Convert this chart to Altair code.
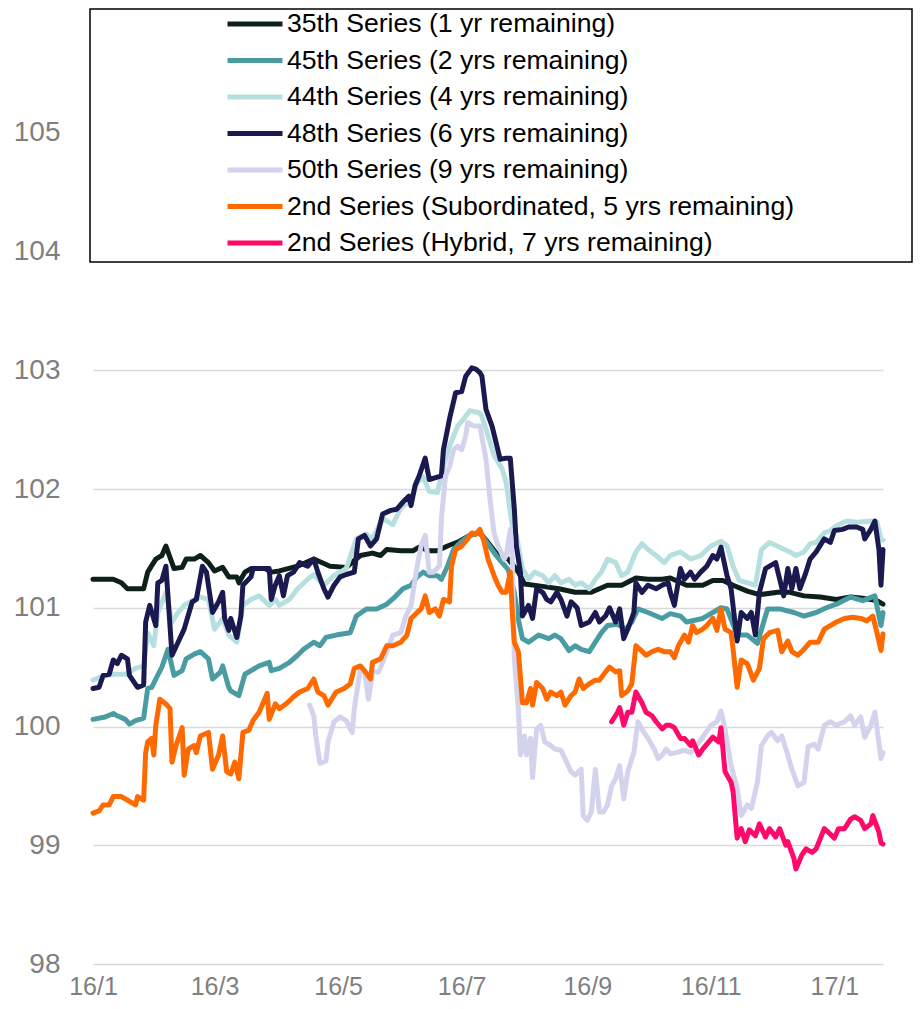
import altair as alt
import pandas as pd

# ---- series (legend order) ----
series_names = [
    "35th Series (1 yr remaining)",
    "45th Series (2 yrs remaining)",
    "44th Series (4 yrs remaining)",
    "48th Series (6 yrs remaining)",
    "50th Series (9 yrs remaining)",
    "2nd Series (Subordinated, 5 yrs remaining)",
    "2nd Series (Hybrid, 7 yrs remaining)",
]
series_colors = ["#0e201c", "#4a9ca3", "#b8dfe0", "#1b1a50", "#d3d3ee", "#ff6a00", "#ff0a6a"]

# days are counted from 2016-01-01
s35_days = [0, 10, 14, 17, 25, 27, 31, 34, 36, 40, 44, 46, 50, 53, 57, 60, 64, 67, 71, 72, 75, 78, 85, 88,
            92, 101, 109, 117, 125, 132, 138, 142, 145, 152, 158, 161, 166, 170, 175, 181, 186, 191,
            194, 199, 202, 205, 210, 213, 222, 230, 238, 246, 254, 261, 268, 274, 281,
            285, 293, 301, 306, 311, 316, 323, 329, 338, 344, 351, 359, 367, 374, 380, 387, 390]
s35_vals = [101.24, 101.24, 101.21, 101.16, 101.16, 101.30, 101.41, 101.44, 101.52, 101.33, 101.34, 101.41,
            101.41, 101.44, 101.38, 101.31, 101.34, 101.26, 101.26, 101.21, 101.30, 101.33, 101.33, 101.30,
            101.31, 101.35, 101.41, 101.35, 101.34, 101.44, 101.46, 101.44, 101.49, 101.48, 101.48, 101.51,
            101.48, 101.48, 101.52, 101.56, 101.61, 101.63,
            101.57, 101.46, 101.44, 101.41, 101.30, 101.20, 101.18, 101.16, 101.13, 101.13, 101.19, 101.19,
            101.25, 101.24, 101.24,
            101.25, 101.19, 101.19, 101.23, 101.23, 101.19, 101.14, 101.11, 101.13, 101.13, 101.10, 101.09,
            101.07, 101.09, 101.08, 101.06, 101.03]

s45_days = [0, 6, 10, 12, 16, 18, 21, 25, 27, 29, 31, 34, 37, 40, 44, 46, 50, 53, 57, 59, 63, 64, 67, 68, 72,
            75, 78, 82, 87, 88,
            92, 97, 101, 104, 109, 112, 115, 120, 127, 130, 135, 140, 145, 149, 153, 157, 160, 163, 166, 170,
            172, 175, 178, 182, 186, 191,
            194, 199, 202, 205, 208, 210, 212, 215, 220, 225, 228, 231, 235, 238, 241, 245, 248, 251, 254, 259,
            263, 266, 269, 274, 281,
            285, 290, 293, 301, 310, 313, 318, 323, 328, 333, 339, 346, 351, 357, 362, 367, 374, 380, 386, 389, 390]
s45_vals = [100.06, 100.08, 100.11, 100.09, 100.06, 100.02, 100.05, 100.07, 100.32, 100.33, 100.40, 100.50,
            100.65, 100.43, 100.47, 100.57, 100.61, 100.63, 100.57, 100.40, 100.46, 100.51, 100.33, 100.30,
            100.26, 100.44, 100.47, 100.51, 100.54, 100.47,
            100.49, 100.54, 100.60, 100.65, 100.71, 100.68, 100.75, 100.77, 100.79, 100.93, 100.99, 100.99,
            101.03, 101.09, 101.16, 101.19, 101.26, 101.30, 101.27, 101.27, 101.24, 101.35, 101.49, 101.56,
            101.61, 101.63,
            101.56, 101.44, 101.38, 101.32, 101.13, 100.90, 100.74, 100.71, 100.77, 100.74, 100.77, 100.74,
            100.64, 100.68, 100.65, 100.63, 100.71, 100.79, 100.85, 100.86, 100.82, 100.88, 100.99, 100.96,
            100.91,
            100.95, 100.93, 100.88, 100.91, 101.00, 100.99, 100.77, 100.77, 100.70, 100.99, 100.99, 100.96,
            100.93, 100.96, 101.00, 101.03, 101.09, 101.06, 101.10, 100.85, 100.96]

s44_days = [0, 6, 11, 16, 21, 25, 27, 30, 32, 36, 39, 42, 45, 49, 53, 57, 60, 64, 67, 71, 74, 78, 82, 87, 90,
            92, 97, 101, 106, 109, 114, 119, 125, 130, 135, 138, 143, 148, 152, 157, 160, 163, 166, 170, 173,
            176, 180, 183, 186, 191,
            192, 195, 198, 202, 204, 207, 209, 212, 215, 218, 222, 225, 228, 231, 235, 238, 241, 245, 248, 251,
            254, 258, 261, 264, 268, 271, 274, 278, 282,
            285, 290, 295, 300, 305, 310, 313, 316, 319, 323, 327, 330, 334, 339, 344, 347, 351, 354, 357, 361,
            364, 367, 372, 377, 384, 387, 389, 390]
s44_vals = [100.39, 100.43, 100.44, 100.44, 100.49, 100.51, 100.79, 100.68, 100.96, 101.13, 100.88, 100.96,
            101.02, 101.06, 101.09, 101.07, 100.82, 100.91, 100.77, 100.71, 101.02, 101.07, 101.10, 101.02,
            101.07,
            101.02, 101.07, 101.16, 101.24, 101.28, 101.19, 101.27, 101.33, 101.58, 101.62, 101.58, 101.75,
            101.70, 101.84, 101.91, 102.05, 102.10, 101.98, 101.97, 102.19, 102.36, 102.53, 102.59, 102.66,
            102.64,
            102.61, 102.45, 102.28, 102.17, 102.05, 101.69, 101.61, 101.33, 101.24, 101.30, 101.27, 101.21,
            101.27, 101.21, 101.24, 101.19, 101.21, 101.16, 101.24, 101.30, 101.41, 101.38, 101.27, 101.30,
            101.47, 101.54, 101.49, 101.44, 101.38,
            101.44, 101.47, 101.41, 101.44, 101.52, 101.56, 101.52, 101.35, 101.23, 101.21, 101.19, 101.49,
            101.55, 101.51, 101.47, 101.44, 101.47, 101.54, 101.55, 101.63, 101.65, 101.69, 101.73, 101.72,
            101.73, 101.72, 101.58, 101.57]

s48_days = [0, 3, 5, 8, 10, 12, 14, 17, 18, 22, 25, 26, 28, 31, 32, 34, 36, 39, 42, 45, 49, 51, 54, 56, 59,
            62, 64, 65, 67, 68, 71, 73, 74, 78, 79, 87, 88, 90,
            92, 94, 96, 99, 102, 106, 109, 111, 114, 116, 119, 122, 125, 129, 131, 134, 137, 140, 143, 147,
            150, 153, 156, 157, 159, 161, 164, 166, 170, 172, 173, 176, 179, 182, 184, 187, 189, 191,
            192, 194, 197, 199, 201, 204, 206, 208, 209, 211, 212, 215, 217, 219, 222, 224, 226, 229, 231, 234,
            236, 239, 241, 245, 248, 250, 253, 255, 258, 260, 262, 264, 267, 268, 271, 274, 278, 281, 284,
            285, 287, 290, 292, 295, 297, 300, 303, 306, 308, 310, 313, 315, 318, 320, 323, 325, 327, 329, 332,
            334, 337, 339, 341, 343, 345, 347, 349, 352, 354, 357, 361, 364, 366, 370, 373, 377, 380, 381, 384,
            386, 388, 389, 390]
s48_vals = [100.32, 100.33, 100.43, 100.44, 100.56, 100.53, 100.60, 100.57, 100.43, 100.33, 100.35, 100.88,
            101.02, 100.85, 101.21, 101.23, 101.35, 100.60, 100.71, 100.82, 101.05, 101.07, 101.35, 101.30,
            100.96, 101.05, 101.13, 100.91, 100.81, 100.91, 100.75, 100.93, 101.19, 101.26, 101.33, 101.33,
            101.07, 101.19,
            101.27, 101.10, 101.27, 101.30, 101.38, 101.35, 101.41, 101.30, 101.16, 101.09, 101.19, 101.26,
            101.28, 101.30, 101.58, 101.61, 101.52, 101.58, 101.79, 101.82, 101.83, 101.89, 101.94, 101.86,
            102.03, 102.11, 102.26, 102.08, 102.10, 102.11, 102.33, 102.59, 102.81, 102.82, 102.95, 103.02,
            103.01, 102.98,
            102.95, 102.67, 102.53, 102.39, 102.25, 102.26, 102.26, 101.83, 101.52, 101.30, 100.93, 101.02,
            100.91, 101.16, 101.13, 101.07, 101.05, 101.13, 101.07, 100.93, 101.05, 101.00, 100.85, 100.88,
            100.96, 100.88, 100.93, 101.00, 100.88, 100.99, 100.74, 100.82, 100.96, 101.21, 101.13, 101.19,
            101.16, 101.19, 101.21,
            101.13, 101.02, 101.33, 101.24, 101.30, 101.24, 101.30, 101.35, 101.44, 101.41, 101.51, 101.27,
            101.16, 100.72, 100.96, 100.91, 100.96, 100.77, 101.13, 101.33, 101.35, 101.38, 101.24, 101.10,
            101.33, 101.16, 101.33, 101.16, 101.30, 101.41, 101.47, 101.58, 101.55, 101.65, 101.66, 101.68,
            101.68, 101.66, 101.58, 101.66, 101.73, 101.49, 101.19, 101.49]

s50_days = [107, 109, 110, 112, 115, 116, 119, 122, 125, 128, 129, 132, 134, 136, 138, 141, 143, 145, 148, 152,
            154, 157, 158, 160, 162, 164, 166, 168, 171, 172, 174, 176, 178, 180, 182, 184, 185, 188, 191,
            194, 196, 198, 200, 203, 204, 206, 207, 208, 210, 211, 213, 214, 216, 217, 219, 221, 223, 226, 228,
            231, 233, 236, 238, 241, 242, 244, 246, 248, 250, 252, 254, 256, 258, 260, 262, 264, 267, 269, 272,
            274, 277, 279, 281, 283,
            285, 288, 292, 295, 298, 301, 305, 308, 310, 312, 315, 318, 320, 323, 325, 328, 330, 333, 335, 338,
            340, 343, 345, 348, 351, 353, 356, 358, 361, 364, 367, 371, 374, 376, 379, 381, 384, 386, 389, 390]
s50_vals = [100.18, 100.09, 99.92, 99.69, 99.71, 99.87, 100.04, 100.08, 100.05, 99.95, 100.15, 100.49, 100.47,
            100.23, 100.46, 100.46, 100.54, 100.63, 100.77, 100.79, 100.91, 101.02, 101.13, 101.35, 101.52,
            101.61, 101.30, 101.30, 101.35, 101.75, 102.11, 102.19, 102.33, 102.36, 102.33, 102.45, 102.56,
            102.53, 102.53,
            102.25, 101.91, 101.63, 101.52, 101.41, 101.44, 101.66, 101.41, 100.57, 100.15, 99.76, 99.92, 99.76,
            99.90, 99.57, 99.98, 100.01, 99.87, 99.84, 99.81, 99.80, 99.73, 99.62, 99.59, 99.64, 99.25, 99.21,
            99.28, 99.64, 99.28, 99.28, 99.34, 99.50, 99.56, 99.67, 99.39, 99.62, 99.78, 100.04, 99.95, 99.90,
            99.81, 99.73, 99.76, 99.81,
            99.77, 99.78, 99.80, 99.78, 99.84, 99.91, 100.01, 100.04, 100.13, 99.98, 99.67, 99.48, 99.25, 99.34,
            99.31, 99.53, 99.84, 99.92, 99.95, 99.88, 99.92, 99.76, 99.64, 99.50, 99.53, 99.83, 99.85, 99.81,
            100.01, 100.04, 100.01, 100.04, 100.09, 100.01, 100.08, 99.91, 100.01, 100.12, 99.73, 99.78]

sub_days = [0, 3, 5, 8, 10, 14, 17, 21, 22, 25, 26, 27, 29, 30, 31, 33, 36, 38, 39, 41, 44, 45, 47, 50, 51, 53,
            57, 59, 62, 64, 66, 68, 70, 72, 74, 77, 79, 82, 86, 87, 90,
            92, 96, 99, 102, 106, 109, 111, 114, 116, 120, 124, 127, 129, 132, 134, 137, 138, 142, 145, 148,
            152, 155, 157, 160, 162, 164, 166, 169, 171, 173, 176, 177, 179, 182, 185, 187, 189, 191,
            193, 195, 198, 200, 202, 204, 206, 207, 208, 210, 212, 214, 216, 217, 219, 222, 224, 226, 229, 231,
            233, 236, 238, 240, 242, 245, 248, 250, 253, 255, 258, 260, 261, 264, 266, 268, 270, 273, 276, 279,
            282,
            285, 287, 289, 292, 294, 296, 298, 301, 303, 306, 308, 310, 312, 315, 316, 318, 320, 323, 326, 329,
            331, 334, 338, 340, 343, 345, 348, 351, 354, 358, 361, 364, 367, 371, 375, 379, 382, 385, 387, 389,
            390]
sub_vals = [99.27, 99.29, 99.34, 99.34, 99.41, 99.41, 99.38, 99.34, 99.41, 99.38, 99.78, 99.87, 99.90, 99.76,
            100.01, 100.23, 100.19, 100.15, 99.70, 99.84, 99.99, 99.59, 99.81, 99.84, 99.78, 99.92, 99.95,
            99.64, 99.76, 99.92, 99.62, 99.60, 99.70, 99.56, 99.95, 99.97, 100.05, 100.12, 100.28, 100.06,
            100.19,
            100.15, 100.20, 100.25, 100.29, 100.32, 100.40, 100.29, 100.26, 100.18, 100.29, 100.32, 100.36,
            100.49, 100.51, 100.47, 100.40, 100.54, 100.57, 100.68, 100.68, 100.71, 100.77, 100.91, 100.96,
            100.99, 101.10, 100.96, 100.99, 100.93, 101.07, 101.05, 101.35, 101.49, 101.52, 101.58, 101.63,
            101.62, 101.66,
            101.56, 101.41, 101.27, 101.19, 101.13, 101.13, 101.30, 100.96, 100.71, 100.63, 100.20, 100.20,
            100.32, 100.18, 100.37, 100.32, 100.23, 100.29, 100.26, 100.29, 100.18, 100.26, 100.29, 100.40,
            100.32, 100.36, 100.39, 100.39, 100.46, 100.50, 100.46, 100.47, 100.26, 100.30, 100.36, 100.68,
            100.65, 100.60, 100.63, 100.65, 100.63,
            100.63, 100.58, 100.68, 100.77, 100.71, 100.85, 100.79, 100.82, 100.85, 100.91, 100.81, 100.99,
            100.82, 100.79, 100.65, 100.33, 100.56, 100.53, 100.39, 100.49, 100.74, 100.79, 100.81, 100.63,
            100.72, 100.63, 100.60, 100.65, 100.71, 100.71, 100.82, 100.85, 100.88, 100.91, 100.92, 100.91,
            100.89, 100.93, 100.79, 100.64, 100.78]

hyb_days = [256, 259, 260, 262, 264, 266, 268, 271, 273, 276, 278, 281, 283,
            285, 287, 290, 292, 295, 296, 299, 301, 304, 306, 309, 310, 312, 315, 316, 318, 320, 322, 324, 327,
            329, 332, 334, 337, 339, 342, 343, 346, 347, 350, 352, 355, 357, 361, 363, 366, 368, 371, 374, 376,
            379, 381, 384, 385, 388, 389, 390]
hyb_vals = [100.04, 100.12, 100.16, 100.01, 100.12, 100.12, 100.29, 100.20, 100.12, 100.09, 100.04, 99.98,
            100.01,
            100.01, 99.99, 99.90, 99.90, 99.84, 99.88, 99.76, 99.81, 99.87, 99.91, 99.87, 99.99, 99.62, 99.53,
            99.45, 99.06, 99.14, 99.03, 99.13, 99.08, 99.18, 99.07, 99.14, 99.07, 99.14, 99.00, 99.03, 98.89,
            98.80, 98.92, 98.97, 98.94, 98.97, 99.14, 99.11, 99.06, 99.14, 99.14, 99.22, 99.24, 99.21, 99.14,
            99.18, 99.25, 99.11, 99.02, 99.01]

y_ticks = [98, 99, 100, 101, 102, 103, 104, 105]
x_tick_months = [(2016, 1), (2016, 3), (2016, 5), (2016, 7), (2016, 9), (2016, 11), (2017, 1)]

all_days = [s35_days, s45_days, s44_days, s48_days, s50_days, sub_days, hyb_days]
all_vals = [s35_vals, s45_vals, s44_vals, s48_vals, s50_vals, sub_vals, hyb_vals]

frames = []
for name, days, vals in zip(series_names, all_days, all_vals):
    assert len(days) == len(vals), (name, len(days), len(vals))
    dates = pd.Timestamp("2016-01-01") + pd.to_timedelta(days, unit="D")
    frames.append(pd.DataFrame({"date": dates.strftime("%Y-%m-%d"), "price": vals, "series": name}))
df = pd.concat(frames, ignore_index=True)

FONT = "Liberation Sans"
GRAY = "#7f7f7f"

x_enc = alt.X(
    "date:T",
    scale=alt.Scale(type="utc",
                    domain=[alt.DateTime(year=2016, month=1, date=1, utc=True),
                            alt.DateTime(year=2017, month=1, date=25, utc=True)]),
    axis=alt.Axis(values=[alt.DateTime(year=y, month=m, date=1, utc=True) for y, m in x_tick_months],
                  format="%y/%-m", title=None, grid=False, ticks=False, domain=False,
                  labelFlush=False, labelOverlap=False,
                  labelFont=FONT, labelFontSize=25, labelColor=GRAY, labelPadding=10),
)
y_enc = alt.Y(
    "price:Q",
    scale=alt.Scale(domain=[98, 106], nice=False, zero=False),
    axis=alt.Axis(values=y_ticks, title=None, domain=False, ticks=False,
                  gridColor="#d9d9d9", gridWidth=1.5,
                  labelFont=FONT, labelFontSize=28, labelColor=GRAY, labelPadding=33),
)

box = alt.Chart(pd.DataFrame({"k": [0]})).mark_rect(
    fill="white", stroke="black", strokeWidth=1.5
).encode(x=alt.value(-3), x2=alt.value(819), y=alt.value(-5), y2=alt.value(248))

lines = alt.Chart(df).mark_line(strokeWidth=5, strokeJoin="round", strokeCap="round").encode(
    x=x_enc,
    y=y_enc,
    color=alt.Color(
        "series:N",
        scale=alt.Scale(domain=series_names, range=series_colors),
        sort=series_names,
        legend=alt.Legend(
            orient="none", legendX=132, legendY=-8, title=None,
            symbolType="stroke", symbolStrokeWidth=5, symbolSize=3025,
            labelFont=FONT, labelFontSize=26.6, labelColor="black", labelLimit=1000,
            labelOffset=2, padding=0, rowPadding=0.5, clipHeight=36,
        ),
    ),
)

chart = alt.layer(box, lines).properties(
    width=790, height=950,
    padding={"left": 85, "top": 6, "right": 30, "bottom": 36},
    autosize=alt.AutoSizeParams(type="none"),
).configure_view(stroke=None)

chart.save("out.html", embed_options={"renderer": "svg", "actions": False})
